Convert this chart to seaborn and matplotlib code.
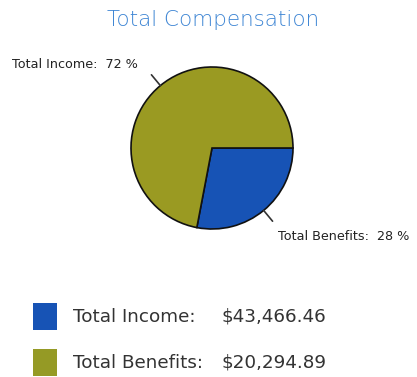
import matplotlib
matplotlib.use("Agg")
import matplotlib.pyplot as plt
import seaborn as sns
import numpy as np
from matplotlib.patches import Rectangle

sns.set_style("white")
plt.rcParams['font.family'] = ['DejaVu Sans']

# Data
slice_labels = ["Total Benefits", "Total Income"]
slice_pcts = [28, 72]
slice_colors = ["#1753b5", "#9a9a22"]
legend_labels = ["Total Income:", "Total Benefits:"]
legend_values = ["$43,466.46", "$20,294.89"]
legend_colors = ["#1753b5", "#959a25"]
title = "Total Compensation"

W, H = 417, 377
fig = plt.figure(figsize=(W / 100, H / 100), dpi=100)
ax = fig.add_axes([0, 0, 1, 1])

cx, cy, r = 212, H - 148, 81
wedges, _ = ax.pie(slice_pcts, colors=slice_colors, startangle=0, counterclock=False,
                   center=(cx, cy), radius=r, frame=True,
                   wedgeprops=dict(edgecolor="#111111", linewidth=1.2))
ax.set_xlim(0, W)
ax.set_ylim(0, H)
ax.set_aspect("equal")
ax.axis("off")

# slice labels with leader lines
label_pos = {
    "Total Benefits": (278, H - 237),
    "Total Income": (12, H - 65),
}
for w, lab, pct in zip(wedges, slice_labels, slice_pcts):
    ang = np.deg2rad((w.theta1 + w.theta2) / 2)
    x0, y0 = cx + r * np.cos(ang), cy + r * np.sin(ang)
    x1, y1 = cx + (r + 14) * np.cos(ang), cy + (r + 14) * np.sin(ang)
    ax.plot([x0, x1], [y0, y1], color="#333333", lw=1.2)
    tx, ty = label_pos[lab]
    ax.text(tx, ty, f"{lab}:  {pct} %", fontsize=9.2, color="#222222",
            ha="left", va="center")

# title
ax.text(213, H - 20, title, fontsize=15.5, color="#3f86d4", ha="center", va="center",
        fontweight="light")

# legend
rows_y = [H - 317, H - 363]
for yy, lab, val, col in zip(rows_y, legend_labels, legend_values, legend_colors):
    ax.add_patch(Rectangle((33, yy - 13), 24, 27, facecolor=col, edgecolor="none"))
    ax.text(73, yy, lab, fontsize=13.2, color="#333333", ha="left", va="center")
    ax.text(222, yy, val, fontsize=13.2, color="#333333", ha="left", va="center")

fig.savefig("out.png", dpi=100, facecolor="white")
